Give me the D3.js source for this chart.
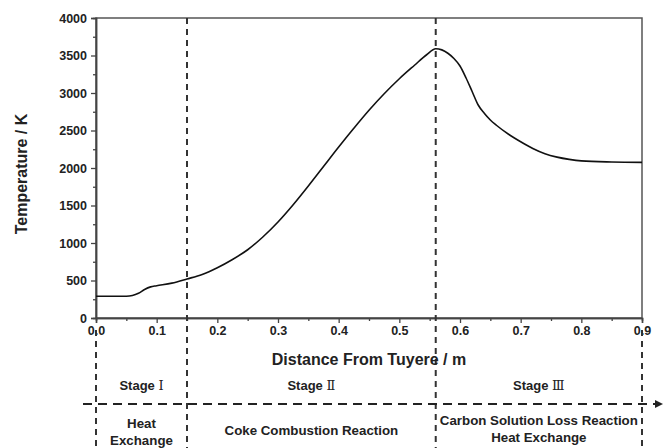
<!DOCTYPE html>
<html><head><meta charset="utf-8">
<script src="https://cdn.jsdelivr.net/npm/d3@7"></script>
<style>body{margin:0;background:#fff}svg{display:block}text{font-family:"Liberation Sans",Arial,sans-serif;font-weight:bold;fill:#222}</style>
</head><body>
<svg id="c" width="664" height="448"></svg>
<script>
const distance = [0,0.05,0.06,0.07,0.08,0.09,0.10,0.125,0.15,0.175,0.2,0.225,0.25,0.275,0.3,0.325,0.35,0.375,0.4,0.425,0.45,0.475,0.5,0.525,0.545,0.56,0.57,0.58,0.59,0.6,0.61,0.62,0.63,0.64,0.65,0.66,0.68,0.70,0.72,0.74,0.76,0.78,0.80,0.85,0.90];
const temperature = [290,290,300,330,380,415,430,465,520,580,670,780,910,1080,1280,1510,1760,2020,2280,2530,2770,2990,3190,3370,3510,3590,3575,3530,3460,3360,3200,3020,2840,2730,2640,2570,2450,2350,2260,2190,2145,2115,2095,2080,2075];
const xTicks = [0,0.1,0.2,0.3,0.4,0.5,0.6,0.7,0.8,0.9];
const yTicks = [0,500,1000,1500,2000,2500,3000,3500,4000];
const stageBounds = [0,0.15,0.56,0.9];
const stageNames = [["Stage ","Ⅰ"],["Stage ","Ⅱ"],["Stage ","Ⅲ"]];
const stageDesc = [["Heat","Exchange"],["Coke Combustion Reaction"],["Carbon Solution Loss Reaction","Heat Exchange"]];

const svg = d3.select("#c");
const L=96,R=642,T=18,B=318;
const x = d3.scaleLinear().domain([0,0.9]).range([L,R]);
const y = d3.scaleLinear().domain([0,4000]).range([B,T]);
const ink="#222";

// frame
svg.append("rect").attr("x",L).attr("y",T).attr("width",R-L).attr("height",B-T).attr("fill","none").attr("stroke","#555").attr("stroke-width",1.5);

// axes
const xa = svg.append("g").attr("transform",`translate(0,${B})`)
  .call(d3.axisBottom(x).tickValues(xTicks).tickFormat(d3.format(".1f")).tickSize(5).tickPadding(3));
const xm = svg.append("g").attr("transform",`translate(0,${B})`)
  .call(d3.axisBottom(x).tickValues(d3.range(0.05,0.9,0.1)).tickFormat("").tickSize(3));
const ya = svg.append("g").attr("transform",`translate(${L},0)`)
  .call(d3.axisLeft(y).tickValues(yTicks).tickFormat(d3.format("d")).tickSize(5).tickPadding(4));
const ym = svg.append("g").attr("transform",`translate(${L},0)`)
  .call(d3.axisLeft(y).tickValues(d3.range(250,4000,500)).tickFormat("").tickSize(3));
[xa,xm,ya,ym].forEach(g=>{g.select(".domain").attr("stroke","#444").attr("stroke-width",1.5);g.selectAll("line").attr("stroke","#444").attr("stroke-width",1.3);g.selectAll("text").attr("font-size",12.5).attr("font-weight","bold").attr("fill",ink).attr("font-family","Liberation Sans, Arial, sans-serif");});

// curve
svg.append("path").datum(distance.map((d,i)=>[d,temperature[i]]))
  .attr("d",d3.line().x(d=>x(d[0])).y(d=>y(d[1])).curve(d3.curveMonotoneX))
  .attr("fill","none").attr("stroke","#111").attr("stroke-width",1.6);

// dashed vertical stage lines
stageBounds.forEach((b,i)=>{
  const inner = i>0 && i<stageBounds.length-1;
  svg.append("line").attr("x1",x(b)).attr("x2",x(b)).attr("y1",inner?T:330).attr("y2",448)
    .attr("stroke","#333").attr("stroke-width",2).attr("stroke-dasharray","6,5");
});
// horizontal arrow
svg.append("line").attr("x1",83).attr("x2",656).attr("y1",404).attr("y2",404)
  .attr("stroke","#222").attr("stroke-width",2).attr("stroke-dasharray","9,6");
svg.append("path").attr("d","M655,400 L663,404 L655,408 Z").attr("fill","#222");

// axis titles
svg.append("text").attr("x",(L+R)/2).attr("y",365).attr("text-anchor","middle").attr("font-size",16).text("Distance From Tuyere / m");
svg.append("text").attr("transform","translate(27,174) rotate(-90)").attr("text-anchor","middle").attr("font-size",16).text("Temperature / K");

// stage labels
for(let i=0;i<3;i++){
  const cx=(x(stageBounds[i])+x(stageBounds[i+1]))/2;
  const t=svg.append("text").attr("x",cx).attr("y",390).attr("text-anchor","middle").attr("font-size",13);
  t.append("tspan").text(stageNames[i][0]);
  t.append("tspan").attr("font-family","DejaVu Serif, serif").attr("font-weight","normal").text(stageNames[i][1]);
  const lines=stageDesc[i];
  const y0 = lines.length===1?435:(i===0?428:425);
  const dy = i===0?17:17;
  lines.forEach((s,j)=>{
    svg.append("text").attr("x",cx).attr("y",y0+j*dy).attr("text-anchor","middle").attr("font-size",13.3).text(s);
  });
}
</script>
</body></html>
